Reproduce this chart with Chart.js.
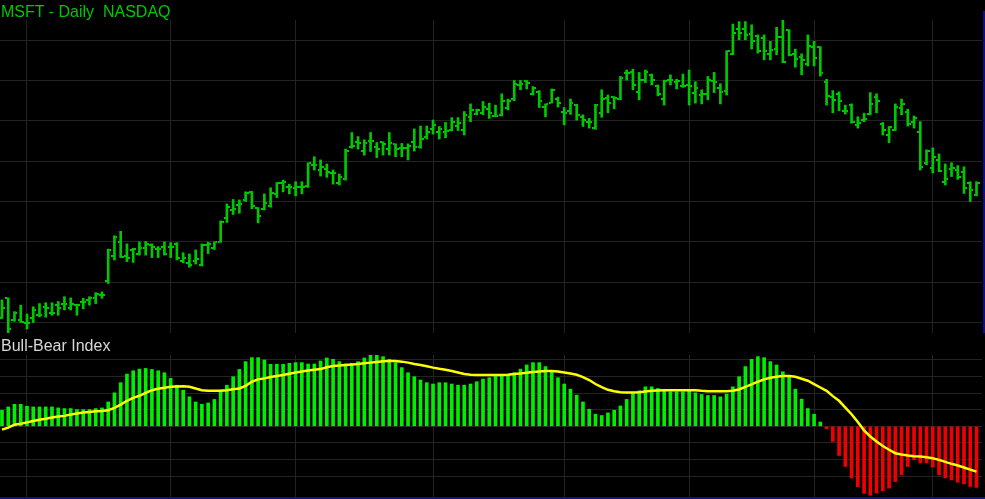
<!DOCTYPE html>
<html>
<head>
<meta charset="utf-8">
<script src="https://cdn.jsdelivr.net/npm/chart.js@4.4.1/dist/chart.umd.min.js"></script>
<style>
  body { margin: 0; background: #000; overflow: hidden; }
  #wrap { position: relative; width: 985px; height: 499px; background: #000; }
  canvas { position: absolute; left: 0; }
  .lbl { position: absolute; font-family: "Liberation Sans", Arial, sans-serif; font-size: 16px; line-height: 18px; white-space: pre; }
</style>
</head>
<body>
<div id="wrap">
  <canvas id="priceChart" width="985" height="333" style="top:0"></canvas>
  <canvas id="bbChart" width="985" height="164" style="top:335px"></canvas>
  <div class="lbl" style="left:1px; top:3px; color:#00c800">MSFT - Daily  NASDAQ</div>
  <div class="lbl" style="left:1px; top:337px; color:#d8d8d8">Bull-Bear Index</div>
  <div style="position:absolute; left:983px; top:11px; width:2px; height:322px; background:#0c0c8c"></div>
  <div style="position:absolute; left:0; top:497px; width:985px; height:2px; background:#10108c"></div>
</div>
<script>
// daily bars, oldest first
const openP = [22.10,22.60,22.06,22.06,22.00,22.10,22.18,22.39,22.24,22.43,22.46,22.37,22.43,22.51,22.56,22.60,22.68,23.04,23.65,24.00,
  23.65,23.80,23.71,23.84,23.91,23.82,23.88,23.88,23.95,23.52,23.47,23.53,23.42,23.92,23.84,24.00,24.58,24.79,24.91,25.04,
  25.24,24.83,24.81,24.89,25.18,25.45,25.35,25.33,25.35,25.39,25.91,25.78,25.81,25.70,25.45,25.56,26.36,26.48,26.24,26.51,
  26.36,26.48,26.30,26.42,26.32,26.32,26.48,26.34,26.61,26.79,26.72,26.73,26.77,26.87,26.77,27.10,27.16,27.19,27.29,27.12,
  27.15,27.31,27.54,27.89,27.99,27.67,27.72,27.35,27.44,27.54,27.23,27.25,27.39,27.10,26.98,26.82,27.19,27.56,27.59,27.54,
  28.18,28.20,27.72,28.01,28.14,27.87,27.54,28.01,27.97,27.87,27.89,27.68,27.64,27.67,28.00,27.81,27.75,28.65,29.27,29.27,
  29.16,29.11,29.05,28.66,28.78,29.09,29.24,28.66,28.59,28.41,28.84,28.84,27.97,27.59,27.67,27.25,27.39,26.90,27.02,27.16,
  27.59,26.92,26.65,26.77,27.31,27.23,26.98,26.73,25.95,25.82,26.03,25.49,25.80,25.78,25.74,25.45,25.16];
const highP = [22.56,22.61,22.27,22.43,22.21,22.39,22.47,22.49,22.49,22.52,22.64,22.61,22.45,22.60,22.64,22.74,22.76,23.82,24.15,24.26,
  23.95,23.84,24.00,24.01,23.95,23.88,24.00,23.98,23.98,23.73,23.70,23.80,23.95,23.99,24.00,24.52,24.94,25.05,25.04,25.24,
  25.25,24.85,25.19,25.34,25.47,25.53,25.43,25.49,25.49,25.96,26.11,26.03,25.93,25.78,25.68,26.30,26.71,26.61,26.53,26.71,
  26.46,26.48,26.71,26.43,26.44,26.43,26.80,26.87,26.87,27.02,26.86,26.96,27.08,27.08,27.23,27.42,27.29,27.48,27.44,27.39,
  27.67,27.54,28.00,28.00,28.00,27.85,27.75,27.42,27.79,27.59,27.33,27.54,27.41,27.15,27.06,27.41,27.77,27.64,27.60,28.10,
  28.26,28.28,28.20,28.26,28.16,27.89,28.01,28.14,28.03,28.16,28.26,27.97,27.77,28.10,28.20,27.92,28.74,29.40,29.46,29.46,
  29.38,29.13,29.13,28.97,29.32,29.50,29.26,28.78,28.66,29.13,28.97,28.84,28.03,27.75,27.72,27.39,27.42,27.10,27.19,27.70,
  27.67,26.96,26.86,27.42,27.54,27.29,27.12,26.98,26.28,26.33,26.18,25.93,25.96,25.89,25.86,25.49,25.49];
const lowP = [22.10,21.75,22.03,22.00,21.84,22.00,22.14,22.13,22.18,22.18,22.31,22.31,22.18,22.34,22.43,22.47,22.60,22.97,23.55,23.61,
  23.51,23.49,23.67,23.67,23.61,23.61,23.67,23.61,23.55,23.48,23.37,23.45,23.40,23.71,23.81,23.99,24.48,24.68,24.71,25.00,
  24.82,24.47,24.79,24.86,25.10,25.24,25.19,25.14,25.19,25.35,25.78,25.63,25.60,25.43,25.41,25.53,26.32,26.30,26.15,26.24,
  26.09,26.15,26.15,26.11,26.11,26.03,26.25,26.32,26.55,26.67,26.55,26.58,26.75,26.76,26.65,26.98,27.15,27.15,27.06,27.10,
  27.12,27.27,27.50,27.77,27.79,27.64,27.33,27.10,27.44,27.34,26.90,27.16,27.02,26.86,26.82,26.79,27.09,27.20,27.30,27.52,
  28.01,27.77,27.52,27.95,27.89,27.62,27.39,27.89,27.79,27.83,27.39,27.44,27.42,27.52,27.70,27.42,27.64,28.64,29.01,29.01,
  28.78,28.68,28.51,28.51,28.64,28.44,28.61,28.33,28.14,28.36,28.36,28.11,27.39,27.20,27.25,27.17,26.94,26.82,26.98,27.15,
  27.20,26.65,26.46,26.76,27.15,26.87,26.82,25.78,25.91,25.71,25.74,25.41,25.62,25.55,25.20,25.00,25.14];
const closeP = [22.37,21.85,22.24,22.02,21.98,22.31,22.18,22.37,22.24,22.35,22.46,22.45,22.43,22.51,22.60,22.71,22.68,23.80,24.11,23.63,
  23.61,23.83,23.84,23.95,23.86,23.82,23.69,23.86,23.59,23.61,23.43,23.57,23.92,23.94,23.99,24.50,24.87,24.81,24.94,25.20,
  24.89,24.65,24.96,25.20,25.45,25.48,25.35,25.37,25.37,25.95,25.91,25.86,25.74,25.70,25.60,26.24,26.38,26.46,26.46,26.51,
  26.30,26.43,26.44,26.30,26.32,26.38,26.34,26.55,26.73,26.90,26.79,26.76,26.98,26.94,27.15,27.27,27.27,27.35,27.19,27.12,
  27.48,27.48,27.92,27.92,27.93,27.81,27.48,27.41,27.77,27.44,27.19,27.44,27.15,27.02,26.98,27.39,27.54,27.44,27.56,28.06,
  28.18,27.89,28.01,28.20,28.01,27.67,28.00,28.01,28.00,27.87,27.87,27.81,27.67,28.01,27.97,27.72,28.72,29.19,29.17,29.13,
  28.99,28.74,28.72,28.76,29.09,28.47,28.64,28.53,28.51,28.86,28.55,28.18,27.62,27.52,27.48,27.25,26.98,26.94,27.04,27.42,
  27.48,26.77,26.84,27.35,27.42,26.92,27.06,25.86,26.24,26.11,25.76,25.55,25.82,25.62,25.33,25.29,25.45];

// Bull-Bear Index histogram and its signal line
const bbHist = [0.97,1.17,1.33,1.33,1.21,1.17,1.17,1.17,1.17,1.11,1.07,1.07,1.01,1.01,1.01,1.07,1.11,1.47,2.02,2.63,
  3.15,3.35,3.45,3.49,3.43,3.35,3.23,2.89,2.48,2.18,1.78,1.47,1.33,1.41,1.62,2.18,2.48,2.99,3.43,3.90,
  4.14,4.14,4.00,3.74,3.74,3.74,3.80,3.84,3.84,3.76,3.76,3.94,4.12,4.04,3.90,3.76,3.80,3.90,4.12,4.30,
  4.30,4.20,4.04,3.84,3.54,3.23,2.99,2.79,2.63,2.55,2.63,2.63,2.55,2.48,2.48,2.55,2.69,2.85,2.93,3.03,
  3.05,3.09,3.23,3.45,3.70,3.84,3.84,3.60,3.29,2.93,2.55,2.24,1.88,1.47,1.03,0.73,0.65,0.81,0.97,1.23,
  1.62,1.98,2.14,2.38,2.38,2.28,2.18,2.08,2.08,2.08,2.12,2.02,1.92,1.86,1.86,1.78,1.94,2.38,2.99,3.60,
  4.04,4.20,4.14,3.90,3.70,3.29,2.99,2.24,1.64,1.07,0.73,0.26,-0.14,-0.91,-1.76,-2.42,-3.11,-3.64,-4.04,-4.16,
  -4.02,-3.88,-3.72,-3.33,-2.91,-2.42,-2.02,-2.20,-2.20,-2.46,-2.91,-3.11,-3.23,-3.37,-3.47,-3.62,-3.68];
const bbSignal = [-0.20,-0.08,0.10,0.16,0.24,0.32,0.40,0.46,0.53,0.59,0.63,0.71,0.77,0.83,0.87,0.91,0.93,0.97,1.11,1.31,
  1.54,1.72,1.84,2.02,2.18,2.26,2.32,2.38,2.40,2.42,2.38,2.28,2.18,2.14,2.14,2.14,2.18,2.24,2.28,2.44,
  2.69,2.83,2.89,2.97,3.03,3.09,3.17,3.25,3.31,3.37,3.41,3.45,3.56,3.64,3.66,3.70,3.72,3.76,3.80,3.84,
  3.88,3.92,3.94,3.94,3.90,3.84,3.76,3.70,3.62,3.54,3.47,3.41,3.33,3.25,3.15,3.11,3.09,3.09,3.09,3.09,
  3.09,3.11,3.15,3.19,3.23,3.27,3.31,3.33,3.33,3.31,3.25,3.19,3.11,2.97,2.79,2.55,2.36,2.20,2.12,2.06,
  2.04,2.04,2.06,2.10,2.14,2.16,2.18,2.18,2.18,2.18,2.18,2.18,2.14,2.12,2.12,2.12,2.12,2.14,2.22,2.38,
  2.53,2.69,2.83,2.93,2.99,3.03,3.03,2.99,2.87,2.75,2.55,2.34,2.14,1.82,1.54,1.13,0.73,0.26,-0.24,-0.61,
  -0.91,-1.19,-1.41,-1.62,-1.70,-1.76,-1.80,-1.82,-1.86,-1.92,-2.02,-2.14,-2.26,-2.36,-2.48,-2.61,-2.73];

// grid positions: first session of each month (bar index), price levels, indicator levels
const monthStarts = [4, 27, 47, 69, 90, 110, 130, 149];
const priceLevels = [22, 23, 24, 25, 26, 27, 28, 29];
const bbLevels = [-3, -2, -1, 0, 1, 2, 3, 4];

const GRID = '#232323';
const BAR_GREEN = '#00c800';

function tickImage(side) {
  const c = document.createElement('canvas');
  c.width = 6; c.height = 2;
  const g = c.getContext('2d');
  g.fillStyle = BAR_GREEN;
  g.fillRect(side === 'open' ? 0 : 4, 0, 2, 2);
  return c;
}

function xAxis() {
  return {
    type: 'linear',
    min: -0.32,
    max: 156.88,
    offset: false,
    afterBuildTicks: s => { s.ticks = monthStarts.map(v => ({ value: v })); },
    ticks: { display: false },
    grid: { color: GRID, drawTicks: false, offset: false },
    border: { display: false }
  };
}

function yAxis(min, max, levels) {
  return {
    min: min,
    max: max,
    afterBuildTicks: s => { s.ticks = levels.map(v => ({ value: v })); },
    ticks: { display: false },
    grid: { color: GRID, drawTicks: false },
    border: { display: false }
  };
}

const common = {
  responsive: false,
  animation: false,
  events: [],
  plugins: { legend: { display: false }, tooltip: { enabled: false } }
};

const idx = openP.map((_, i) => i);

new Chart(document.getElementById('priceChart'), {
  type: 'bar',
  data: {
    datasets: [
      {
        type: 'bar',
        data: idx.map(i => ({ x: i, y: [lowP[i], highP[i]] })),
        backgroundColor: BAR_GREEN,
        barThickness: 2
      },
      {
        type: 'scatter',
        data: idx.map(i => ({ x: i, y: openP[i] })),
        pointStyle: tickImage('open')
      },
      {
        type: 'scatter',
        data: idx.map(i => ({ x: i, y: closeP[i] })),
        pointStyle: tickImage('close')
      }
    ]
  },
  options: {
    ...common,
    layout: { autoPadding: false, padding: { top: 20, right: 3, bottom: 0, left: 0 } },
    scales: { x: xAxis(), y: yAxis(21.74, 29.5, priceLevels) }
  }
});

new Chart(document.getElementById('bbChart'), {
  type: 'bar',
  data: {
    datasets: [
      {
        type: 'line',
        data: idx.map(i => ({ x: i, y: bbSignal[i] })),
        borderColor: '#ffff00',
        borderWidth: 2.5,
        pointRadius: 0,
        order: 0
      },
      {
        type: 'bar',
        data: idx.map(i => ({ x: i, y: bbHist[i] })),
        backgroundColor: ctx => (ctx.raw && ctx.raw.y < 0) ? '#f00000' : '#00ee00',
        barThickness: 3,
        order: 1
      }
    ]
  },
  options: {
    ...common,
    layout: { autoPadding: false, padding: { top: 20, right: 3, bottom: 2, left: 0 } },
    scales: { x: xAxis(), y: yAxis(-4.26, 4.3, bbLevels) }
  }
});
</script>
</body>
</html>
